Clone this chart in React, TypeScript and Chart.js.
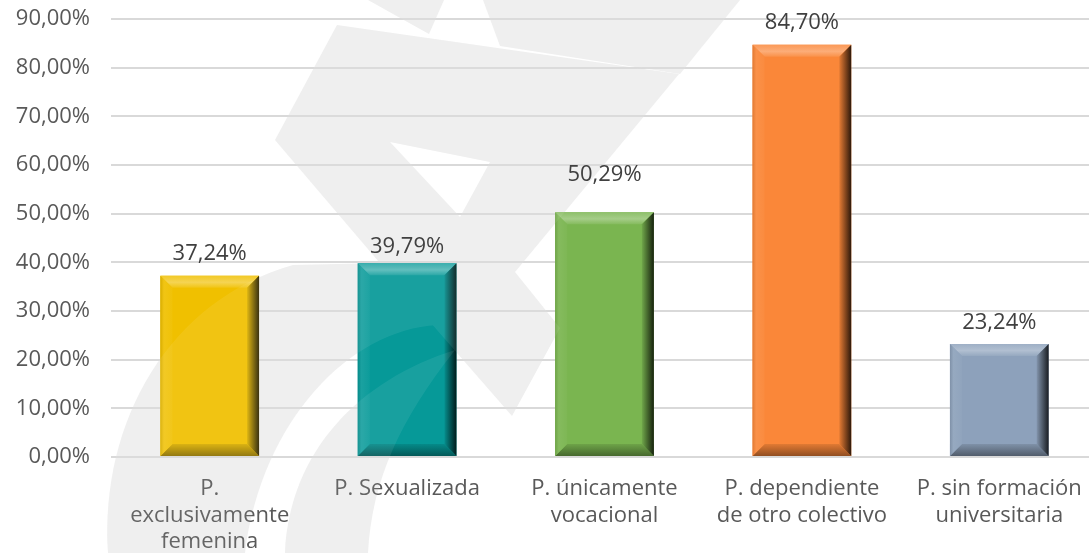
import React, { useEffect, useRef } from "react";
import { Chart, registerables } from "chart.js";

Chart.register(...registerables);

// ---------- data ----------
const categories: (string | string[])[] = [
  ["P.", "exclusivamente", "femenina"],
  "P. Sexualizada",
  ["P. únicamente", "vocacional"],
  ["P. dependiente", "de otro colectivo"],
  ["P. sin formación", "universitaria"],
];
const values = [37.24, 39.79, 50.29, 84.7, 23.24];
const yTickValues = [0, 10, 20, 30, 40, 50, 60, 70, 80, 90];

// ---------- styles ----------
const barColors = ["#F0C000", "#069998", "#7AB550", "#FA8739", "#8DA1BB"];
const labelLift = [22, 17, 38, 22, 21];
const FONT = "'Open Sans', 'Noto Sans', sans-serif";
const VIEW_W = 1089;
const W = 1098; // plot area runs slightly past the visible right edge
const H = 553;

const fmt = (v: number) => v.toFixed(2).replace(".", ",") + "%";

function hexToRgb(h: string) {
  const n = parseInt(h.slice(1), 16);
  return [(n >> 16) & 255, (n >> 8) & 255, n & 255];
}
function mix(h: string, target: number, t: number) {
  const [r, g, b] = hexToRgb(h);
  const m = (c: number) => Math.round(c + (target - c) * t);
  return `rgb(${m(r)},${m(g)},${m(b)})`;
}

type Pt = [number, number];
function poly(ctx: CanvasRenderingContext2D, pts: Pt[]) {
  ctx.moveTo(pts[0][0], pts[0][1]);
  for (let i = 1; i < pts.length; i++) ctx.lineTo(pts[i][0], pts[i][1]);
  ctx.closePath();
}

function drawWatermark(ctx: CanvasRenderingContext2D, color: string) {
  ctx.save();
  ctx.fillStyle = color;
  // main Z stroke with notch
  ctx.beginPath();
  poly(ctx, [[337, 25], [679, 74], [515, 272], [560, 328], [512, 416], [437, 330], [275, 140]]);
  poly(ctx, [[390, 142], [490, 162], [460, 217]]);
  ctx.fill("evenodd");
  // top pieces
  ctx.beginPath();
  poly(ctx, [[368, 0], [444, 0], [429, 34]]);
  ctx.fill();
  ctx.beginPath();
  poly(ctx, [[483, 0], [740, 0], [680, 74], [500, 46]]);
  ctx.fill();
  // outer crescent
  ctx.beginPath();
  ctx.moveTo(108, 553);
  ctx.bezierCurveTo(100, 420, 170, 300, 293, 265);
  ctx.lineTo(382, 263);
  ctx.lineTo(437, 325);
  ctx.bezierCurveTo(350, 330, 262, 420, 245, 553);
  ctx.closePath();
  ctx.fill();
  // inner lens
  ctx.beginPath();
  ctx.moveTo(285, 553);
  ctx.bezierCurveTo(290, 450, 360, 380, 455, 350);
  ctx.bezierCurveTo(400, 420, 372, 480, 368, 553);
  ctx.closePath();
  ctx.fill();
  ctx.restore();
}

const watermarkBg = {
  id: "watermarkBg",
  beforeDraw(chart: any) {
    const ctx = chart.ctx as CanvasRenderingContext2D;
    ctx.save();
    ctx.fillStyle = "#ffffff";
    ctx.fillRect(0, 0, chart.width, chart.height);
    ctx.restore();
    drawWatermark(ctx, "#eeeeee");
  },
};

const bevelPlugin = {
  id: "bevel",
  afterDatasetsDraw(chart: any) {
    const ctx = chart.ctx as CanvasRenderingContext2D;
    const meta = chart.getDatasetMeta(0);
    meta.data.forEach((el: any, i: number) => {
      const { x, y, base, width } = el.getProps(["x", "y", "base", "width"], true);
      const L = x - width / 2;
      const R = x + width / 2;
      const T = Math.min(y, base);
      const B = Math.max(y, base);
      const b = 12;
      const c = barColors[i % barColors.length];
      ctx.save();
      // top
      let g = ctx.createLinearGradient(0, T, 0, T + b);
      g.addColorStop(0, mix(c, 255, 0.15));
      g.addColorStop(0.55, mix(c, 255, 0.32));
      g.addColorStop(1, mix(c, 255, 0.08));
      ctx.fillStyle = g;
      ctx.beginPath();
      poly(ctx, [[L, T], [R, T], [R - b, T + b], [L + b, T + b]]);
      ctx.fill();
      // bottom
      g = ctx.createLinearGradient(0, B - b, 0, B);
      g.addColorStop(0, mix(c, 0, 0.1));
      g.addColorStop(1, mix(c, 0, 0.42));
      ctx.fillStyle = g;
      ctx.beginPath();
      poly(ctx, [[L, B], [R, B], [R - b, B - b], [L + b, B - b]]);
      ctx.fill();
      // left
      g = ctx.createLinearGradient(L, 0, L + b, 0);
      g.addColorStop(0, mix(c, 0, 0.1));
      g.addColorStop(0.3, mix(c, 255, 0.08));
      g.addColorStop(1, mix(c, 255, 0.03));
      ctx.fillStyle = g;
      ctx.beginPath();
      poly(ctx, [[L, T], [L + b, T + b], [L + b, B - b], [L, B]]);
      ctx.fill();
      // right
      g = ctx.createLinearGradient(R - b, 0, R, 0);
      g.addColorStop(0, mix(c, 0, 0.08));
      g.addColorStop(0.5, mix(c, 0, 0.45));
      g.addColorStop(1, mix(c, 0, 0.82));
      ctx.fillStyle = g;
      ctx.beginPath();
      poly(ctx, [[R, T], [R - b, T + b], [R - b, B - b], [R, B]]);
      ctx.fill();
      ctx.restore();
    });
  },
};

let overlayCanvas: HTMLCanvasElement | null = null;
const watermarkOverlay = {
  id: "watermarkOverlay",
  afterDatasetsDraw(chart: any) {
    const ctx = chart.ctx as CanvasRenderingContext2D;
    if (!overlayCanvas) {
      overlayCanvas = document.createElement("canvas");
      overlayCanvas.width = W;
      overlayCanvas.height = H;
      const octx = overlayCanvas.getContext("2d")!;
      drawWatermark(octx, "#ffffff");
    }
    ctx.save();
    ctx.globalAlpha = 0.07;
    ctx.drawImage(overlayCanvas, 0, 0, W, H);
    ctx.restore();
  },
};

const valueLabels = {
  id: "valueLabels",
  afterDraw(chart: any) {
    const ctx = chart.ctx as CanvasRenderingContext2D;
    const meta = chart.getDatasetMeta(0);
    ctx.save();
    ctx.font = `22px ${FONT}`;
    ctx.fillStyle = "#404040";
    ctx.textAlign = "center";
    ctx.textBaseline = "middle";
    meta.data.forEach((el: any, i: number) => {
      const { x, y } = el.getProps(["x", "y"], true);
      ctx.fillText(fmt(values[i]), x, y - labelLift[i]);
    });
    ctx.restore();
  },
};

export default function App() {
  const ref = useRef<HTMLCanvasElement | null>(null);
  useEffect(() => {
    if (!ref.current) return;
    const chart = new Chart(ref.current, {
      type: "bar",
      data: {
        labels: categories as any,
        datasets: [
          {
            data: values,
            backgroundColor: barColors,
            borderWidth: 0,
            categoryPercentage: 1,
            barPercentage: 0.5,
          },
        ],
      },
      options: {
        animation: false,
        responsive: true,
        maintainAspectRatio: false,
        layout: { padding: { top: 19, right: 0, bottom: 0, left: 0 } },
        plugins: {
          legend: { display: false },
          tooltip: { enabled: false },
        },
        scales: {
          x: {
            grid: { display: false, drawTicks: false },
            border: { display: false },
            ticks: {
              color: "#595959",
              font: { family: FONT, size: 22, lineHeight: 1.2 },
              padding: 19,
              maxRotation: 0,
              autoSkip: false,
            },
            afterFit(scale: any) {
              scale.height = 96;
              scale.paddingLeft = 0;
              scale.paddingRight = 0;
            },
          },
          y: {
            min: 0,
            max: 90,
            afterBuildTicks(scale: any) {
              scale.ticks = yTickValues.map((v) => ({ value: v }));
            },
            grid: { color: "#d9d9d9", lineWidth: 2, drawTicks: false },
            border: { display: false },
            ticks: {
              color: "#595959",
              font: { family: FONT, size: 22 },
              padding: 21,
              callback: (v: any) => fmt(Number(v)),
            },
            afterFit(scale: any) {
              scale.width = 111;
              scale.paddingTop = 0;
              scale.paddingBottom = 0;
            },
          },
        },
      },
      plugins: [watermarkBg, bevelPlugin, watermarkOverlay, valueLabels],
    });
    return () => chart.destroy();
  }, []);
  return (
    <div style={{ position: "fixed", left: 0, top: 0, width: VIEW_W, height: H, background: "#fff", overflow: "hidden" }}>
      <div style={{ position: "absolute", left: 0, top: 0, width: W, height: H }}>
        <canvas ref={ref} />
      </div>
    </div>
  );
}
